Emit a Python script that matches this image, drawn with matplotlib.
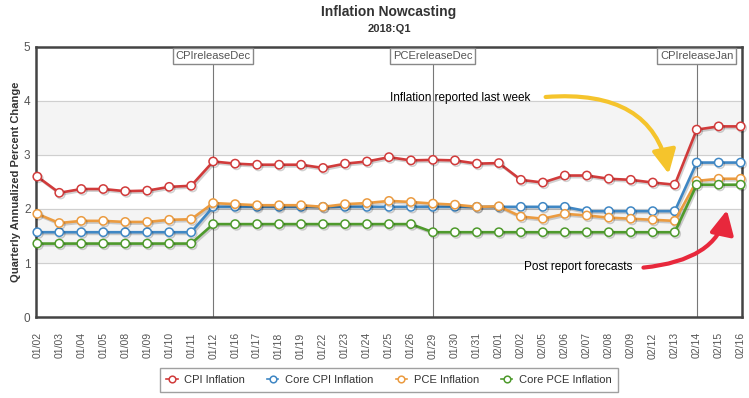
import matplotlib
matplotlib.use("Agg")
import matplotlib.pyplot as plt
import matplotlib.patheffects as pe

plt.rcParams['font.family'] = ['Liberation Sans', 'DejaVu Sans']

# datas das estimativas
datas = ['01/02', '01/03', '01/04', '01/05', '01/08', '01/09', '01/10', '01/11',
         '01/12', '01/16', '01/17', '01/18', '01/19', '01/22', '01/23', '01/24',
         '01/25', '01/26', '01/29', '01/30', '01/31', '02/01', '02/02', '02/05',
         '02/06', '02/07', '02/08', '02/09', '02/12', '02/13', '02/14', '02/15', '02/16']

cpi = [2.60, 2.30, 2.37, 2.37, 2.33, 2.34, 2.41, 2.43,
       2.88, 2.84, 2.82, 2.82, 2.82, 2.76, 2.84, 2.88,
       2.96, 2.90, 2.91, 2.90, 2.84, 2.85, 2.54, 2.49,
       2.62, 2.62, 2.56, 2.54, 2.49, 2.45, 3.47, 3.53, 3.53]
core_cpi = [1.57] * 8 + [2.04] * 17 + [1.96] * 5 + [2.86] * 3
pce = [1.91, 1.74, 1.78, 1.78, 1.76, 1.76, 1.80, 1.81,
       2.11, 2.09, 2.07, 2.07, 2.07, 2.04, 2.09, 2.11,
       2.15, 2.13, 2.10, 2.08, 2.04, 2.05, 1.86, 1.82,
       1.91, 1.88, 1.84, 1.82, 1.80, 1.78, 2.52, 2.56, 2.56]
core_pce = [1.36] * 8 + [1.72] * 10 + [1.57] * 12 + [2.45] * 3

series_nomes = ['CPI Inflation', 'Core CPI Inflation', 'PCE Inflation', 'Core PCE Inflation']
cores = ['#d13b3b', '#3f87c4', '#eb9b40', '#4e9a2c']

releases = ['01/12', '01/29', '02/14']
release_nomes = ['CPIreleaseDec', 'PCEreleaseDec', 'CPIreleaseJan']

fig = plt.figure(figsize=(7.49, 3.98), dpi=100)
ax = fig.add_axes([36 / 749, 1 - 317 / 398, 706 / 749, 270 / 398])

x = list(range(len(datas)))
ax.set_xlim(-0.06, len(datas) - 1 + 0.06)
ax.set_ylim(0, 5)

# faixas alternadas
for y0 in (1, 3):
    ax.axhspan(y0, y0 + 1, color='#f4f4f4', zorder=0)
for y0 in (1, 2, 3, 4):
    ax.axhline(y0, color='#cfcfcf', lw=0.8, zorder=1)

# linhas de divulgacao
for d, nome in zip(releases, release_nomes):
    i = datas.index(d)
    ax.axvline(i, color='#777777', lw=0.8, zorder=2)
    ax.text(i, 4.83, nome, ha='center', va='center', fontsize=8, color='#555555', zorder=6,
            bbox=dict(boxstyle='square,pad=0.25', fc='white', ec='#888888', lw=1))

sombra = [pe.SimpleLineShadow(offset=(1, -1.2), alpha=0.18, shadow_color='black'), pe.Normal()]
for vals, nome, cor in zip([cpi, core_cpi, pce, core_pce], series_nomes, cores):
    ax.plot(x, vals, color=cor, lw=1.9, marker='o', ms=6, mfc='white', mec=cor, mew=1.1,
            label=nome, zorder=4, path_effects=sombra, clip_on=False)

for s in ax.spines.values():
    s.set_color('#444444')
    s.set_linewidth(1.8)

ax.set_yticks([0, 1, 2, 3, 4, 5])
ax.set_xticks(x)
ax.set_xticklabels(datas, rotation=90)
ax.tick_params(axis='x', length=0, pad=11, labelsize=7.5, labelcolor='#555555')
ax.tick_params(axis='y', length=0, pad=4, labelsize=8.5, labelcolor='#555555')
ax.set_ylabel('Quarterly Annualized Percent Change', fontsize=8, fontweight='bold',
              color='#333333', labelpad=2)
ax.yaxis.set_label_coords(-15 / 706, 0.5)

fig.text(389 / 749, 1 - 12 / 398, 'Inflation Nowcasting', ha='center', va='center',
         fontsize=10, fontweight='bold', color='#333333')
fig.text(389 / 749, 1 - 29 / 398, '2018:Q1', ha='center', va='center',
         fontsize=8, fontweight='bold', color='#333333')

# anotacoes
ax.text(16.06, 4.06, 'Inflation reported last week', fontsize=8.5, va='center', ha='left',
        color='black', zorder=7)
ax.annotate('', xy=(28.75, 2.6), xytext=(23.0, 4.07),
            arrowprops=dict(arrowstyle='-|>,head_length=0.9,head_width=0.45', color='#f5c42c',
                            lw=3, mutation_scale=16,
                            connectionstyle='angle3,angleA=5,angleB=-80'), zorder=7)
ax.text(22.15, 0.93, 'Post report forecasts', fontsize=8.5, va='center', ha='left',
        color='black', zorder=7)
ax.annotate('', xy=(31.4, 2.03), xytext=(27.45, 0.91),
            arrowprops=dict(arrowstyle='-|>,head_length=0.9,head_width=0.45', color='#e8283c',
                            lw=3, mutation_scale=16,
                            connectionstyle='angle3,angleA=5,angleB=80'), zorder=7)

leg = fig.legend(loc='center', bbox_to_anchor=(389 / 749, 1 - 380 / 398), ncol=4,
                 fontsize=8, frameon=True, fancybox=False, edgecolor='#888888',
                 handlelength=1.0, columnspacing=2.0, handletextpad=0.6,
                 borderpad=0.6, markerscale=0.8, shadow=False)
for t in leg.get_texts():
    t.set_color('#333333')
for h in leg.legend_handles:
    h.set_path_effects([])
    h.set_linewidth(1.2)

fig.savefig('out.png', dpi=100)
